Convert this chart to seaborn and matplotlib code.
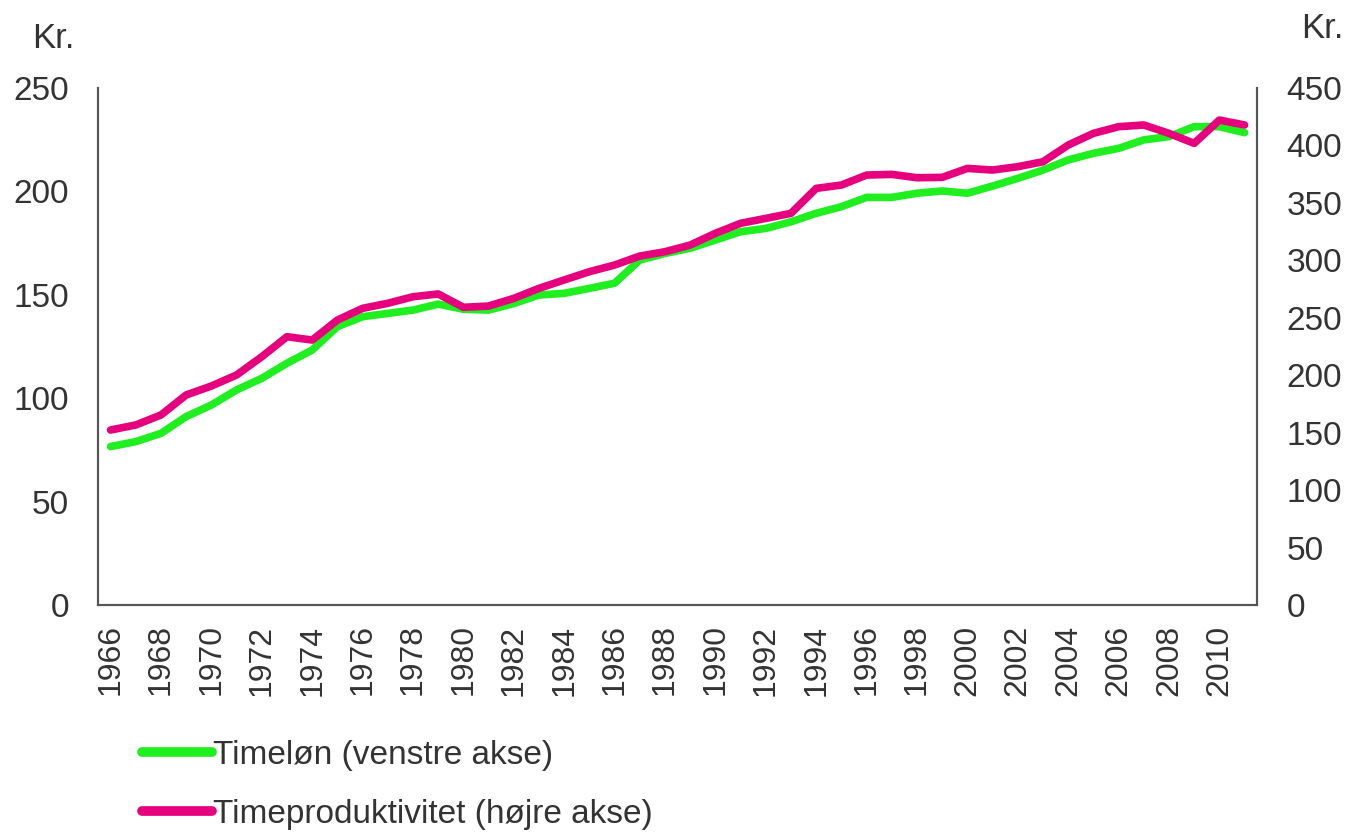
import pandas as pd
import seaborn as sns
import matplotlib.pyplot as plt
import numpy as np

years = list(range(1966, 2012))
timeloen = [76.6, 79.0, 83.0, 91.1, 96.7, 104.0, 109.6, 116.9, 123.3, 134.6,
            139.4, 141.0, 142.6, 145.5, 143.0, 142.6, 145.8, 149.9, 150.7, 153.1,
            155.6, 166.8, 170.0, 172.5, 176.5, 180.5, 182.1, 185.3, 189.4, 192.6,
            197.1, 197.1, 199.1, 200.2, 199.1, 202.6, 206.3, 210.3, 215.2, 218.4,
            220.8, 224.9, 226.5, 231.3, 231.3, 228.4]
timeprod = [152.3, 156.7, 165.4, 182.8, 190.6, 200.2, 216.1, 233.5, 230.6, 248.0,
            258.2, 262.6, 268.3, 270.7, 259.1, 260.2, 266.9, 275.6, 282.9, 290.1,
            295.9, 303.7, 307.5, 313.3, 323.5, 332.2, 336.5, 340.9, 362.6, 365.5,
            374.2, 374.8, 371.9, 372.2, 380.0, 378.6, 381.5, 385.8, 400.3, 410.5,
            416.3, 417.8, 410.5, 401.8, 422.1, 417.8]
labels = ["Timeløn (venstre akse)", "Timeproduktivitet (højre akse)"]

df = pd.DataFrame({"year": years, "loen": timeloen, "prod": timeprod})

sns.set_style("white")
plt.rcParams['font.family'] = ['Liberation Sans', 'DejaVu Sans']
txt = "#333333"

fig = plt.figure(figsize=(13.46, 8.34), dpi=100)
ax = fig.add_axes([0.0728, 0.2746, 0.8612, 0.6199])
ax2 = ax.twinx()

green = "#1FEE1F"
pink = "#E6007E"
sns.lineplot(data=df, x="year", y="loen", ax=ax, color=green, lw=5.5,
             label=labels[0], legend=False)
sns.lineplot(data=df, x="year", y="prod", ax=ax2, color=pink, lw=5.5,
             label=labels[1], legend=False)

ax.set_xlim(1965.5, 2011.5)
ax.set_ylim(0, 250)
ax2.set_ylim(0, 450)
ax.set_yticks(np.arange(0, 251, 50))
ax2.set_yticks(np.arange(0, 451, 50))
ax.set_xticks(years[::2])
ax.set_xticklabels([str(y) for y in years[::2]], rotation=90)
ax.set_xlabel("")
ax.set_ylabel("")
ax2.set_ylabel("")

for a in (ax, ax2):
    a.spines["top"].set_visible(False)
    for s in ["left", "right", "bottom"]:
        a.spines[s].set_color("#555555")
        a.spines[s].set_linewidth(1.5)
ax.tick_params(axis="y", length=0, pad=21, labelsize=24, labelcolor=txt)
ax.tick_params(axis="x", length=0, pad=14, labelsize=23, labelcolor=txt)
ax2.tick_params(axis="y", length=0, pad=21, labelsize=24, labelcolor=txt)

fig.text(0.024, 0.942, "Kr.", fontsize=25, color=txt)
fig.text(0.967, 0.955, "Kr.", fontsize=25, color=txt)

h1, l1 = ax.get_legend_handles_labels()
h2, l2 = ax2.get_legend_handles_labels()
leg = fig.legend(h1 + h2, l1 + l2, loc="lower left", bbox_to_anchor=(0.083, -0.031),
                 frameon=False, fontsize=24, handlelength=2.1, handletextpad=0.05,
                 labelspacing=0.85, labelcolor=txt)
for line in leg.get_lines():
    line.set_linewidth(7)

fig.savefig("out.png", dpi=100)
